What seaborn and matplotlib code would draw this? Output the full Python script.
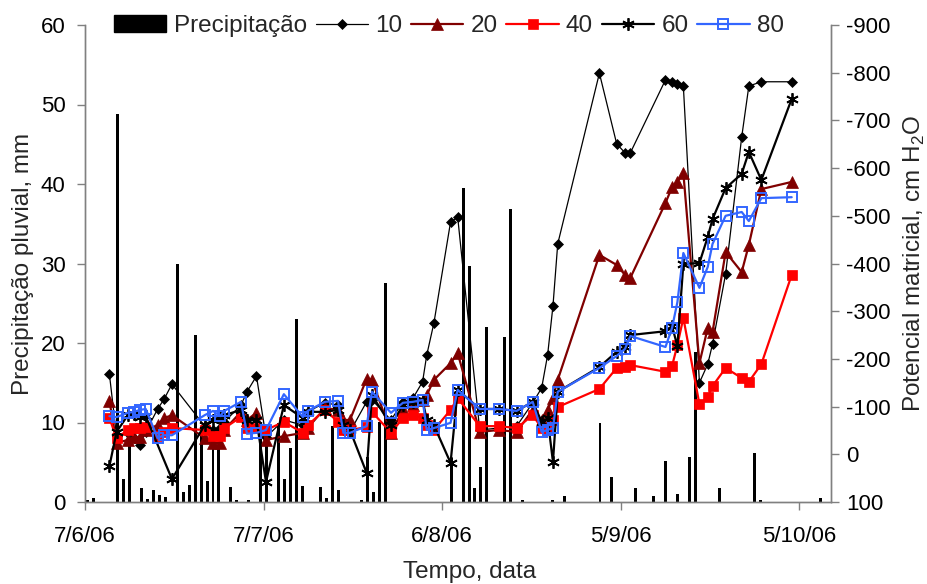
import numpy as np
import pandas as pd
import matplotlib
matplotlib.use("Agg")
import matplotlib.pyplot as plt
import seaborn as sns
from matplotlib.patches import Patch
from matplotlib.lines import Line2D

# ---------------- data ----------------
start_date = "2006-06-07"

# daily precipitation (day index from start date, mm)
precip_day = [0, 1, 5, 6, 7, 9, 10, 11, 12, 13, 15, 16, 17, 18, 19, 20, 21, 22, 24, 25,
              27, 29, 30, 32, 33, 34, 35, 36, 39, 40, 41, 42, 46, 47, 48, 49, 50, 61, 63, 64,
              65, 66, 67, 70, 71, 73, 78, 80, 86, 88, 92, 95, 97, 99, 101, 102, 106, 112, 113, 123]
precip_mm = [0.25, 0.55, 48.8, 2.9, 7.0, 1.7, 0.35, 1.5, 0.9, 0.6, 29.9, 1.3, 2.2, 21.0, 9.0, 2.7, 7.2, 7.2, 1.9, 0.25,
             0.25, 9.5, 8.5, 10.0, 2.9, 6.75, 23.0, 2.0, 1.9, 0.5, 9.5, 1.5, 0.25, 5.7, 1.2, 10.1, 27.5, 5.5, 39.5, 29.7,
             1.7, 4.4, 22.0, 20.8, 36.8, 0.25, 0.25, 0.75, 10.0, 3.2, 1.7, 0.8, 5.1, 1.0, 5.6, 18.9, 1.7, 6.2, 0.25, 0.55]

# measurement times (days from start date)
meas_day = [4.1, 5.3, 7.2, 8.2, 9.2, 10.2, 12.2, 13.3, 14.6, 20.1, 21.5, 22.7, 23.4, 26.2, 27.2, 28.8,
            30.4, 33.4, 36.6, 37.4, 40.3, 42.5, 43.4, 44.5, 47.3, 48.2, 51.4, 53.4, 55.1, 56.7, 57.4, 58.6,
            61.4, 62.6, 66.3, 69.5, 72.5, 75.2, 76.7, 77.7, 78.6, 79.4, 86.4, 89.3, 90.7, 91.6, 97.5, 98.6,
            99.5, 100.5, 103.2, 104.6, 105.4, 107.6, 110.3, 111.5, 113.6, 118.7]

# matric potential (cm H2O) per depth (cm)
pot_10 = [-168, -38, -45, -34, -19, -47, -95, -116, -147, -59, -51, -55, -68, -103, -131, -164,
          -36, -72, -61, -89, -108, -103, -51, -47, -110, -114, -72, -110, -118, -152, -208, -275,
          -487, -497, -51, -55, -59, -108, -139, -208, -311, -441, -799, -651, -632, -632, -785, -781,
          -776, -772, -150, -189, -231, -378, -665, -772, -781, -781]
pot_20 = [-112, -24, -30, -36, -36, -51, -61, -76, -82, -34, -24, -24, -51, -89, -72, -87,
          -30, -38, -45, -55, -97, -93, -72, -72, -158, -156, -45, -93, -103, -114, -124, -156,
          -191, -212, -47, -51, -47, -93, -72, -93, -118, -156, -418, -397, -376, -370, -527, -560,
          -571, -590, -191, -265, -256, -424, -382, -439, -556, -571]
pot_40 = [-76, -34, -51, -55, -55, -57, -38, -47, -55, -51, -38, -38, -55, -78, -55, -55,
          -51, -68, -45, -61, -93, -68, -51, -51, -57, -89, -45, -76, -82, -76, -61, -51,
          -93, -118, -59, -59, -55, -82, -55, -51, -72, -99, -137, -181, -183, -187, -173, -185,
          -229, -286, -105, -120, -143, -181, -160, -152, -189, -376]
pot_60 = [25, -47, -82, -85, -78, -80, np.nan, np.nan, 52, -61, -72, -76, -82, -93, -72, -72,
          58, -103, -76, -89, -89, -93, -61, -51, 39, -124, -61, -103, -110, -114, -72, -61,
          18, -135, -95, -95, -91, -110, -68, -76, 16, -131, -183, -215, -225, -250, -258, -269,
          -227, -399, -401, -456, -493, -558, -588, -634, -575, -745]
pot_80 = [-80, -78, -87, -89, -93, -95, -34, -40, -40, -82, -91, -80, -91, -110, -43, -45,
          -51, -126, -78, -91, -110, -112, -45, -45, -59, -131, -87, -108, -110, -114, -51, -55,
          -66, -135, -95, -95, -91, -110, -47, -51, -55, -131, -181, -206, -221, -248, -225, -265,
          -319, -422, -349, -393, -441, -500, -508, -489, -537, -539]

tick_dates = ["2006-06-07", "2006-07-07", "2006-08-06", "2006-09-05", "2006-10-05"]
tick_labels = ["7/6/06", "7/7/06", "6/8/06", "5/9/06", "5/10/06"]
x_end_days = 125.3

# ---------------- style ----------------
sns.set_theme(style="white")
plt.rcParams["font.family"] = ["Liberation Sans", "DejaVu Sans"]
plt.rcParams["mathtext.fontset"] = "custom"
plt.rcParams["mathtext.rm"] = "Liberation Sans"
plt.rcParams["axes.unicode_minus"] = False

spine_col = "#808080"
TICK_FS = 16
LAB_FS = 17.5

fig = plt.figure(figsize=(9.28, 5.84), dpi=100)
ax = fig.add_axes([85 / 928, 1 - 502 / 584, 746 / 928, 477 / 584])
ax2 = ax.twinx()

start = pd.Timestamp(start_date)
p_dates = start + pd.to_timedelta(np.array(precip_day) + 0.5, unit="D")
m_dates = start + pd.to_timedelta(np.array(meas_day), unit="D")

ax.bar(p_dates, precip_mm, width=0.5, color="black", linewidth=0, zorder=2)

styles = [
    ("10", pot_10, dict(color="black", marker="D", markersize=5.6, linewidth=0.9,
                         markerfacecolor="black", markeredgecolor="black", markeredgewidth=0.5)),
    ("20", pot_20, dict(color="#800000", marker="^", markersize=8.5, linewidth=1.6,
                         markerfacecolor="#800000", markeredgecolor="#800000", markeredgewidth=0.5)),
    ("40", pot_40, dict(color="#FF0000", marker="s", markersize=7.0, linewidth=1.6,
                         markerfacecolor="#FF0000", markeredgecolor="#FF0000", markeredgewidth=0.5)),
    ("60", pot_60, dict(color="black", marker=(6, 2, 0), markersize=9.0, linewidth=1.6,
                         markerfacecolor="black", markeredgecolor="black", markeredgewidth=1.3)),
    ("80", pot_80, dict(color="#3366FF", marker="s", markersize=7.0, linewidth=1.6,
                         markerfacecolor="none", markeredgecolor="#3366FF", markeredgewidth=1.4)),
]

handles = [Patch(facecolor="black", edgecolor="black", label="Precipitação")]
for name, vals, st in styles:
    df = pd.DataFrame({"date": m_dates, "pot": vals}).dropna()
    sns.lineplot(data=df, x="date", y="pot", ax=ax2, estimator=None, sort=False,
                 legend=False, **st)
    handles.append(Line2D([], [], label=name, **st))

# ---------------- axes ----------------
ax.set_xlim(start, start + pd.Timedelta(days=x_end_days))
ax.set_ylim(0, 60)
ax.set_yticks(np.arange(0, 61, 10))
ax2.set_ylim(100, -900)
ax2.set_yticks(np.arange(-900, 101, 100))
ax.set_xticks(pd.to_datetime(tick_dates))
ax.set_xticklabels(tick_labels)

for a in (ax, ax2):
    for s in a.spines.values():
        s.set_color(spine_col)
        s.set_linewidth(1.0)
    a.spines["top"].set_visible(False)
    a.grid(False)
ax.patch.set_visible(False)

ax.tick_params(axis="x", direction="out", length=6, width=1, color=spine_col,
               labelsize=TICK_FS, pad=11, labelcolor="black", bottom=True)
ax.tick_params(axis="y", direction="out", length=6, width=1, color=spine_col,
               labelsize=TICK_FS, pad=8, labelcolor="black", left=True)
ax2.tick_params(axis="y", direction="out", length=6, width=1, color=spine_col,
                labelsize=TICK_FS, pad=5, labelcolor="black", right=True)

ax.set_xlabel("Tempo, data", fontsize=LAB_FS)
ax.set_ylabel("Precipitação pluvial, mm", fontsize=LAB_FS)
ax2.set_ylabel("Potencial matricial, cm H$_2$O", fontsize=LAB_FS)
ax2.set_xlabel("")
ax.xaxis.label.set_va("center")
ax.yaxis.label.set_va("center")
ax2.yaxis.label.set_va("center")
ax.xaxis.set_label_coords((470 - 85) / 746, -(572 - 502) / 477)
ax.yaxis.set_label_coords(-(85 - 23) / 746, 0.5)
ax2.yaxis.set_label_coords((914 - 85) / 746, 0.5)

fig.legend(handles=handles, loc="center", bbox_to_anchor=(449 / 928, 1 - 26 / 584),
           ncol=6, frameon=False, fontsize=LAB_FS, handlelength=2.15,
           handletextpad=0.3, columnspacing=0.36, borderaxespad=0, borderpad=0)

fig.savefig("out.png", dpi=100)
